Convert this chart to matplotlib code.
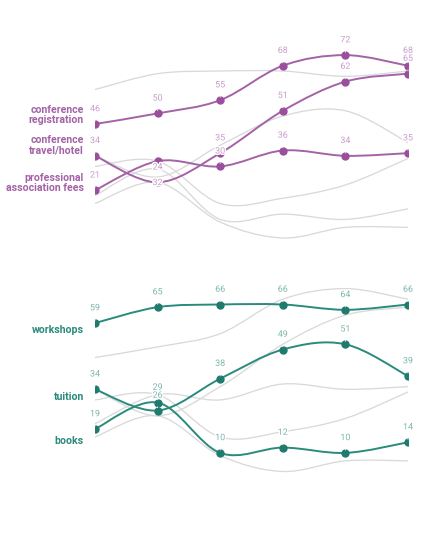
import numpy as np
import matplotlib
matplotlib.use("Agg")
import matplotlib.pyplot as plt
import matplotlib.patheffects as pe
from matplotlib.path import Path
from matplotlib.patches import PathPatch

plt.rcParams["font.family"] = ["Roboto", "DejaVu Sans"]

# six survey periods, no axis labels shown
periods = np.arange(6)

conference_registration = [46, 50, 55, 68, 72, 68]
conference_travel = [34, 24, 35, 51, 62, 65]
association_fees = [21, 32, 30, 36, 34, 35]
workshops = [59, 65, 66, 66, 64, 66]
tuition = [34, 26, 38, 49, 51, 39]
books = [19, 29, 10, 12, 10, 14]
other_a = [30, 32, 16, 18, 23, 33]   # unlabelled background lines
other_b = [16, 24, 9, 3, 7, 7]

top_names = ["conference\nregistration", "conference\ntravel/hotel",
             "professional\nassociation fees"]
top_series = [conference_registration, conference_travel, association_fees]
bottom_names = ["workshops", "tuition", "books"]
bottom_series = [workshops, tuition, books]

# vertical offsets (points) for the category labels, relative to first value
top_name_dy = [6.5, 7.3, 5.3]
bottom_name_dy = [-5.0, -5.3, -8.6]
# value labels that had to be moved below their point
label_below = {(1, 2, 1)}   # (panel, series, index)

PURPLE, PURPLE_DK, PURPLE_LT = "#a462a7", "#9a4f9c", "#c99ccb"
TEAL, TEAL_DK, TEAL_LT = "#2a8a7c", "#1e7b6d", "#7db7ad"
GREY = "#d9d9d9"


def smooth_path(xs, ys):
    # cardinal (catmull-rom) spline through the points as cubic beziers
    pts = np.column_stack([xs, ys]).astype(float)
    ext = np.vstack([pts[0], pts, pts[-1]])
    verts = [pts[0]]
    codes = [Path.MOVETO]
    for i in range(1, len(ext) - 2):
        p0, p1, p2, p3 = ext[i - 1], ext[i], ext[i + 1], ext[i + 2]
        verts += [p1 + (p2 - p0) / 6, p2 - (p3 - p1) / 6, p2]
        codes += [Path.CURVE4] * 3
    return Path(verts, codes)


def draw_line(ax, ys, color, lw, z):
    ax.add_patch(PathPatch(smooth_path(periods, ys), fill=False,
                           edgecolor=color, lw=lw, zorder=z,
                           capstyle="round", joinstyle="round"))


fig = plt.figure(figsize=(4.47, 5.4), dpi=100)
fig.patch.set_facecolor("white")

panels = [
    (top_series, top_names, top_name_dy, bottom_series,
     (PURPLE, PURPLE_DK, PURPLE_LT), 0.5446),
    (bottom_series, bottom_names, bottom_name_dy, top_series,
     (TEAL, TEAL_DK, TEAL_LT), 0.1122),
]
everything_else = [other_a, other_b]

for p, (series, names, name_dy, others, cols, bottom) in enumerate(panels):
    col, col_dk, col_lt = cols
    ax = fig.add_axes([0.2125, bottom, 0.7002, 0.3926])
    ax.set_xlim(0, 5)
    ax.set_ylim(0, 80)
    ax.axis("off")

    for ys in others + everything_else:
        draw_line(ax, ys, GREY, 0.95, 1)

    for s, (ys, name, dy) in enumerate(zip(series, names, name_dy)):
        draw_line(ax, ys, col, 1.4, 3)
        ax.plot(periods, ys, "o", color=col_dk, ms=5.0, mec=col_dk, zorder=4)
        for i, v in enumerate(ys):
            off = -15.5 if (p + 1, s, i) in label_below else 11
            ax.annotate(str(v), (periods[i], v), xytext=(0, off),
                        textcoords="offset points", ha="center", va="center",
                        fontsize=6.4, color=col_lt, zorder=5, annotation_clip=False,
                        path_effects=[pe.withStroke(linewidth=2, foreground="white")],
                        arrowprops=dict(arrowstyle="-", color="#efefef", lw=0.6,
                                        shrinkA=3, shrinkB=2)
                        if off > 0 else None)
        ax.annotate(name, (periods[0], ys[0]), xytext=(-8, dy),
                    textcoords="offset points", ha="right", va="center",
                    fontsize=7.6, fontweight="bold", color=col, linespacing=1.05,
                    annotation_clip=False)

fig.savefig("out.png", dpi=100, facecolor="white")
